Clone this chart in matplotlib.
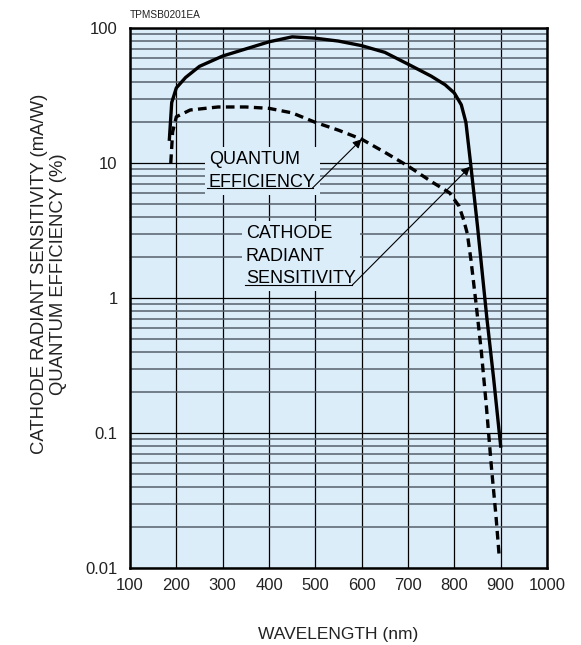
import numpy as np
import matplotlib
matplotlib.use("Agg")
from matplotlib import pyplot as plt
from matplotlib.ticker import FixedLocator, NullFormatter

plt.rcParams["font.family"] = ["Liberation Sans", "DejaVu Sans"]

# cathode radiant sensitivity (mA/W)
crs_nm = [185, 190, 200, 220, 250, 300, 350, 400, 450, 500, 550, 600, 650, 700,
          750, 780, 800, 815, 825, 835, 850, 870, 885, 900]
crs_val = [15, 28, 36, 43, 52, 62, 70, 79, 86, 84, 80, 74, 66, 54,
           44, 38, 33, 27, 20, 10, 3.4, 0.72, 0.25, 0.08]

# quantum efficiency (%)
qe_nm = [188, 192, 200, 230, 290, 350, 400, 450, 500, 550, 600, 650, 700, 750,
         790, 810, 820, 828, 836, 847, 858, 869, 880, 890, 897]
qe_val = [10, 17, 22, 24.7, 26, 26, 25.4, 23.5, 20, 17.5, 15, 12, 9.5, 7.3,
          6.0, 4.8, 3.8, 3.0, 1.9, 0.9, 0.41, 0.16, 0.056, 0.024, 0.012]

x_ticks = [100, 200, 300, 400, 500, 600, 700, 800, 900, 1000]
y_ticks = [0.01, 0.1, 1, 10, 100]
y_labels = ["0.01", "0.1", "1", "10", "100"]

bg = "#dcedfa"

fig = plt.figure(figsize=(5.81, 6.45), dpi=100)
ax = fig.add_axes([130 / 581, 1 - 568 / 645, 417 / 581, 540 / 645])
ax.set_facecolor(bg)
ax.set_yscale("log")
ax.set_xlim(100, 1000)
ax.set_ylim(0.01, 100)

ax.set_xticks(x_ticks)
ax.set_xticklabels([str(v) for v in x_ticks])
ax.set_yticks(y_ticks)
ax.set_yticklabels(y_labels)
minors = [m * 10.0 ** e for e in range(-2, 2) for m in range(2, 10)]
ax.yaxis.set_minor_locator(FixedLocator(minors))
ax.yaxis.set_minor_formatter(NullFormatter())
ax.tick_params(which="both", length=0, labelsize=12, colors="#222222")
ax.tick_params(axis="x", pad=7)
ax.tick_params(axis="y", pad=9)

ax.set_axisbelow(True)
ax.grid(True, which="major", axis="both", color="black", lw=0.9)
ax.grid(True, which="minor", axis="y", color="#55606a", lw=1.1)
for s in ax.spines.values():
    s.set_linewidth(1.8)

ax.plot(crs_nm, crs_val, color="black", lw=2.4, zorder=4)
ax.plot(qe_nm, qe_val, color="black", lw=2.4, dashes=(2.6, 1.6), zorder=4)

# annotations
ax.text(270, 6.2, "QUANTUM\nEFFICIENCY", fontsize=13, ha="left", va="bottom",
        linespacing=1.45, zorder=3,
        bbox=dict(facecolor=bg, edgecolor="none", pad=3))
ax.plot([266, 494], [6.53, 6.53], color="black", lw=0.8, zorder=3.5)
ax.annotate("", xy=(600, 15), xytext=(494, 6.53),
            arrowprops=dict(arrowstyle="-|>", lw=0.8, color="black",
                            mutation_scale=13, shrinkA=0, shrinkB=0), zorder=5)

ax.text(350, 1.2, "CATHODE\nRADIANT\nSENSITIVITY", fontsize=13, ha="left",
        va="bottom", linespacing=1.43, zorder=3,
        bbox=dict(facecolor=bg, edgecolor="none", pad=3))
ax.plot([348, 580], [1.25, 1.25], color="black", lw=0.8, zorder=3.5)
ax.annotate("", xy=(834, 9.4), xytext=(580, 1.25),
            arrowprops=dict(arrowstyle="-|>", lw=0.8, color="black",
                            mutation_scale=13, shrinkA=0, shrinkB=0), zorder=5)

ax.set_xlabel("WAVELENGTH (nm)", fontsize=12.5, labelpad=25, color="#222222")
fig.text(49 / 581, 1 - 274 / 645,
         "CATHODE RADIANT SENSITIVITY (mA/W)\nQUANTUM EFFICIENCY (%)",
         rotation=90, ha="center", va="center", fontsize=13.3,
         linespacing=1.15, color="#222222")
fig.text(130 / 581, 1 - 15 / 645, "TPMSB0201EA", fontsize=7.3,
         ha="left", va="center", color="#222222")

fig.savefig("out.png", dpi=100)
